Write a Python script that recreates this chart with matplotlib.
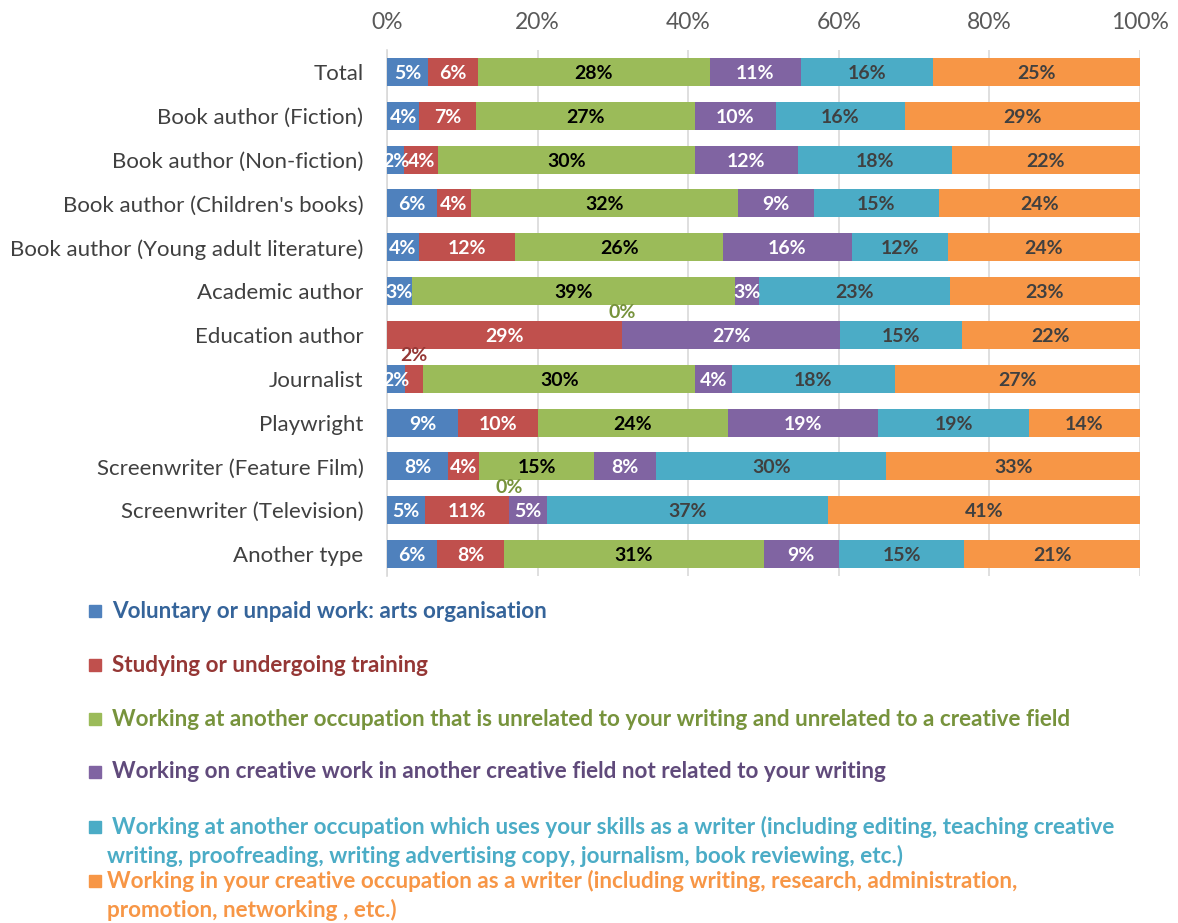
import matplotlib
matplotlib.use("Agg")
import matplotlib.pyplot as plt
import numpy as np
from matplotlib.patches import Rectangle

plt.rcParams["font.family"] = ["Lato", "DejaVu Sans"]

# --------------------------------------------------------------------------- #
# Data (percent of respondents, as labelled)
# --------------------------------------------------------------------------- #
categories = [
    "Total",
    "Book author (Fiction)",
    "Book author (Non-fiction)",
    "Book author (Children's books)",
    "Book author (Young adult literature)",
    "Academic author",
    "Education author",
    "Journalist",
    "Playwright",
    "Screenwriter (Feature Film)",
    "Screenwriter (Television)",
    "Another type",
]

voluntary = [5, 4, 2, 6, 4, 3, 0, 2, 9, 8, 5, 6]
studying = [6, 7, 4, 4, 12, 0, 29, 2, 10, 4, 11, 8]
unrelated = [28, 27, 30, 32, 26, 39, 0, 30, 24, 15, 0, 31]
other_creative = [11, 10, 12, 9, 16, 3, 27, 4, 19, 8, 5, 9]
uses_skills = [16, 16, 18, 15, 12, 23, 15, 18, 19, 30, 37, 15]
as_writer = [25, 29, 22, 24, 24, 23, 22, 27, 14, 33, 41, 21]

series_names = [
    "Voluntary or unpaid work: arts organisation",
    "Studying or undergoing training",
    "Working at another occupation that is unrelated to your writing and unrelated to a creative field",
    "Working on creative work in another creative field not related to your writing",
    ["Working at another occupation which uses your skills as a writer (including editing, teaching creative",
     "writing, proofreading, writing advertising copy, journalism, book reviewing, etc.)"],
    ["Working in your creative occupation as a writer (including writing, research, administration,",
     "promotion, networking , etc.)"],
]

# labels shown above the bar: (row, series)
above_labels = [(6, 2), (7, 1), (10, 2)]

# --------------------------------------------------------------------------- #
# Style
# --------------------------------------------------------------------------- #
bar_colors = ["#4F81BD", "#C0504D", "#9BBB59", "#8064A2", "#4BACC6", "#F79646"]
text_colors = ["#35649A", "#953735", "#77933C", "#604A7B", "#4BACC6", "#F79646"]
label_colors = ["white", "white", "black", "white", "#404040", "#404040"]

W, H = 1178, 923
fig = plt.figure(figsize=(W / 100, H / 100), dpi=100)
ax = fig.add_axes([387 / W, 1 - 576 / H, (1140 - 387) / W, (576 - 50) / H])

data = np.array([voluntary, studying, unrelated, other_creative,
                 uses_skills, as_writer], dtype=float)
shares = data / data.sum(axis=0) * 100
y = np.arange(len(categories))

left = np.zeros(len(categories))
for s in range(len(data)):
    ax.barh(y, shares[s], left=left, height=0.64, color=bar_colors[s],
            edgecolor="none", zorder=3)
    for i in range(len(categories)):
        cx = left[i] + shares[s, i] / 2
        txt = f"{data[s, i]:.0f}%"
        if (i, s) in above_labels:
            ax.text(cx, i - 0.52, txt, ha="center", va="center",
                    color=text_colors[s], fontsize=14, fontweight="bold",
                    zorder=5)
        elif data[s, i] > 0:
            ax.text(cx, i, txt, ha="center", va="center_baseline",
                    color=label_colors[s], fontsize=14, fontweight="bold",
                    zorder=5)
    left += shares[s]

ax.set_xlim(0, 100)
ax.set_ylim(len(categories) - 0.5, -0.5)
ax.set_xticks(np.arange(0, 101, 20))
ax.set_xticklabels([f"{v}%" for v in range(0, 101, 20)])
ax.xaxis.tick_top()
ax.tick_params(axis="x", length=0, pad=12, labelsize=16.5, labelcolor="#595959")
ax.set_yticks(y)
ax.set_yticklabels(categories)
ax.tick_params(axis="y", length=0, pad=17, labelsize=16, labelcolor="#404040")
ax.grid(axis="x", color="#D9D9D9", linewidth=1.2, zorder=0)
for side in ["top", "right", "bottom"]:
    ax.spines[side].set_visible(False)
ax.spines["left"].set_color("#D9D9D9")
ax.spines["left"].set_linewidth(1.2)

# --------------------------------------------------------------------------- #
# Legend (manual, one entry per line)
# --------------------------------------------------------------------------- #
legend_y = [611, 665, 719, 772, 827, 881]
for s, name in enumerate(series_names):
    yy = legend_y[s]
    fig.patches.append(Rectangle((89 / W, 1 - (yy + 6) / H), 12 / W, 12 / H,
                                 transform=fig.transFigure,
                                 color=bar_colors[s]))
    lines = name if isinstance(name, list) else [name]
    for k, line in enumerate(lines):
        x0 = 112 if k == 0 and s < 5 else 107
        fig.text(x0 / W, 1 - (yy + 29 * k) / H, line, ha="left", va="center",
                 color=text_colors[s], fontsize=16.2, fontweight="bold")

fig.savefig("out.png", dpi=100)
